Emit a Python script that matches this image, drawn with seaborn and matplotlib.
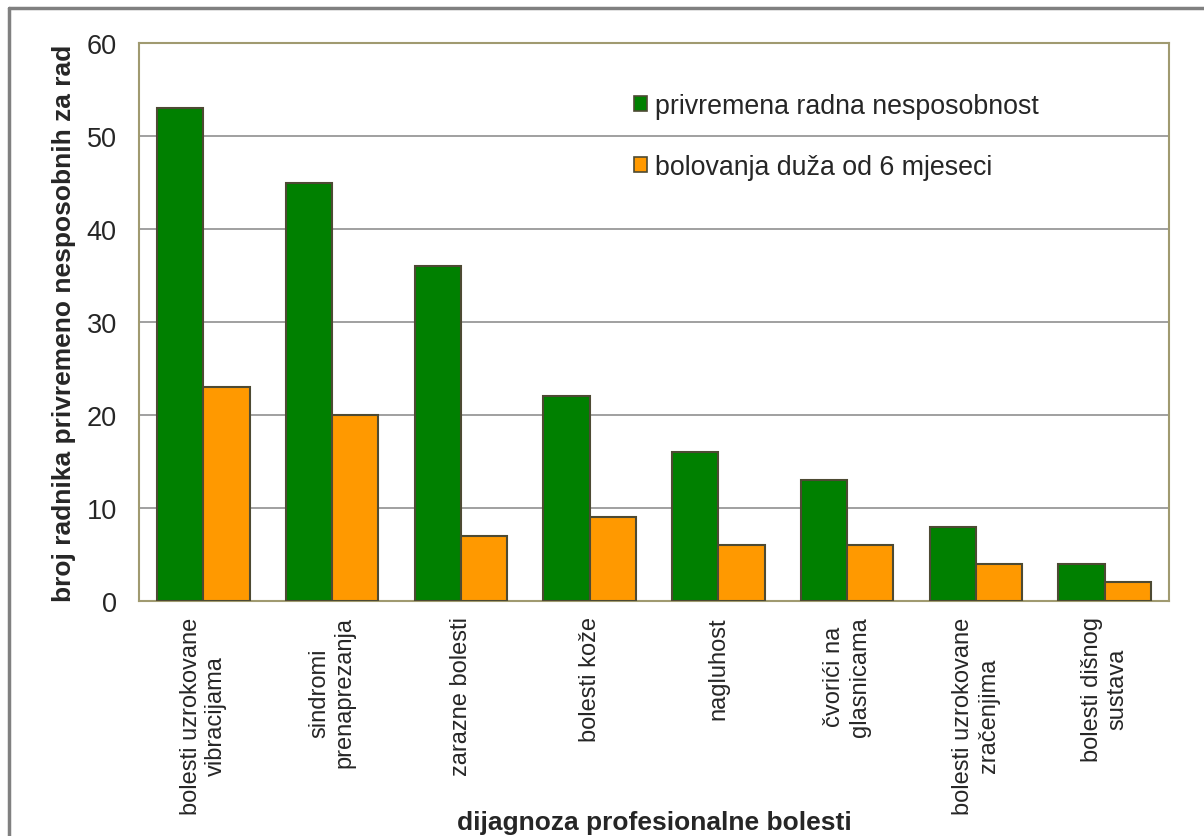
import matplotlib
matplotlib.use("Agg")
import matplotlib.pyplot as plt
import seaborn as sns
import pandas as pd
from matplotlib.lines import Line2D
from matplotlib.patches import Patch

categories = ["bolesti uzrokovane\nvibracijama", "sindromi\nprenaprezanja", "zarazne bolesti",
              "bolesti kože", "nagluhost", "čvorići na\nglasnicama",
              "bolesti uzrokovane\nzračenjima", "bolesti dišnog\nsustava"]
series_names = ["privremena radna nesposobnost", "bolovanja duža od 6 mjeseci"]
privremena = [53, 45, 36, 22, 16, 13, 8, 4]
bolovanja = [23, 20, 7, 9, 6, 6, 4, 2]
y_ticks = [0, 10, 20, 30, 40, 50, 60]

df = pd.DataFrame({
    "cat": categories * 2,
    "val": privremena + bolovanja,
    "series": [series_names[0]] * len(categories) + [series_names[1]] * len(categories),
})

sns.set_style("white")
plt.rcParams['font.family'] = ['Liberation Sans', 'DejaVu Sans']

colors = ["#008000", "#ff9900"]
edge = "#4d4a33"
spine_col = "#a09a70"

fig = plt.figure(figsize=(12.04, 8.37), dpi=100)
ax = fig.add_axes([139/1204, 1 - 602/837, (1169-139)/1204, (602-44)/837])

sns.barplot(data=df, x="cat", y="val", hue="series", palette=colors, width=0.72,
            saturation=1, edgecolor=edge, linewidth=1.5, ax=ax, legend=False, zorder=3)

ax.set_ylim(0, 60)
ax.set_xlim(-0.5, len(categories) - 0.5)
ax.set_yticks(y_ticks)
ax.set_yticklabels([str(t) for t in y_ticks], fontsize=19.5)
ax.set_xticks(range(len(categories)))
ax.set_xticklabels(categories, rotation=90, fontsize=17, ha="center", va="top", multialignment="center")
ax.tick_params(axis="x", length=0, pad=11)
ax.tick_params(axis="y", length=0, pad=16)
for y in y_ticks[1:-1]:
    ax.axhline(y, color="#a0a0a0", lw=1.4, zorder=1)
for s in ax.spines.values():
    s.set_color(spine_col)
    s.set_linewidth(1.5)

ax.set_xlabel("dijagnoza profesionalne bolesti", fontsize=19, fontweight="bold")
ax.set_ylabel("broj radnika privremeno nesposobnih za rad", fontsize=19, fontweight="bold")
ax.xaxis.set_label_coords(0.5, (602 - 811) / 558, transform=ax.transAxes)
ax.yaxis.set_label_coords((76 - 139) / 1030, 0.5, transform=ax.transAxes)

handles = [Patch(facecolor=c, edgecolor=edge, linewidth=1.2) for c in colors]
leg = ax.legend(handles, series_names, loc="upper left", bbox_to_anchor=(634/1204, 1 - 94/837),
                bbox_transform=fig.transFigure, frameon=False, fontsize=19.3,
                handlelength=0.5, handleheight=0.5, handletextpad=0.3, labelspacing=1.3,
                borderaxespad=0, borderpad=0)

# figure border (top and left only visible)
fig.add_artist(Line2D([9/1204, 9/1204], [0, 1 - 9/837], color="#808080", lw=2.5, transform=fig.transFigure))
fig.add_artist(Line2D([9/1204, 1], [1 - 9/837, 1 - 9/837], color="#808080", lw=2.5, transform=fig.transFigure))

fig.savefig("out.png", dpi=100)
